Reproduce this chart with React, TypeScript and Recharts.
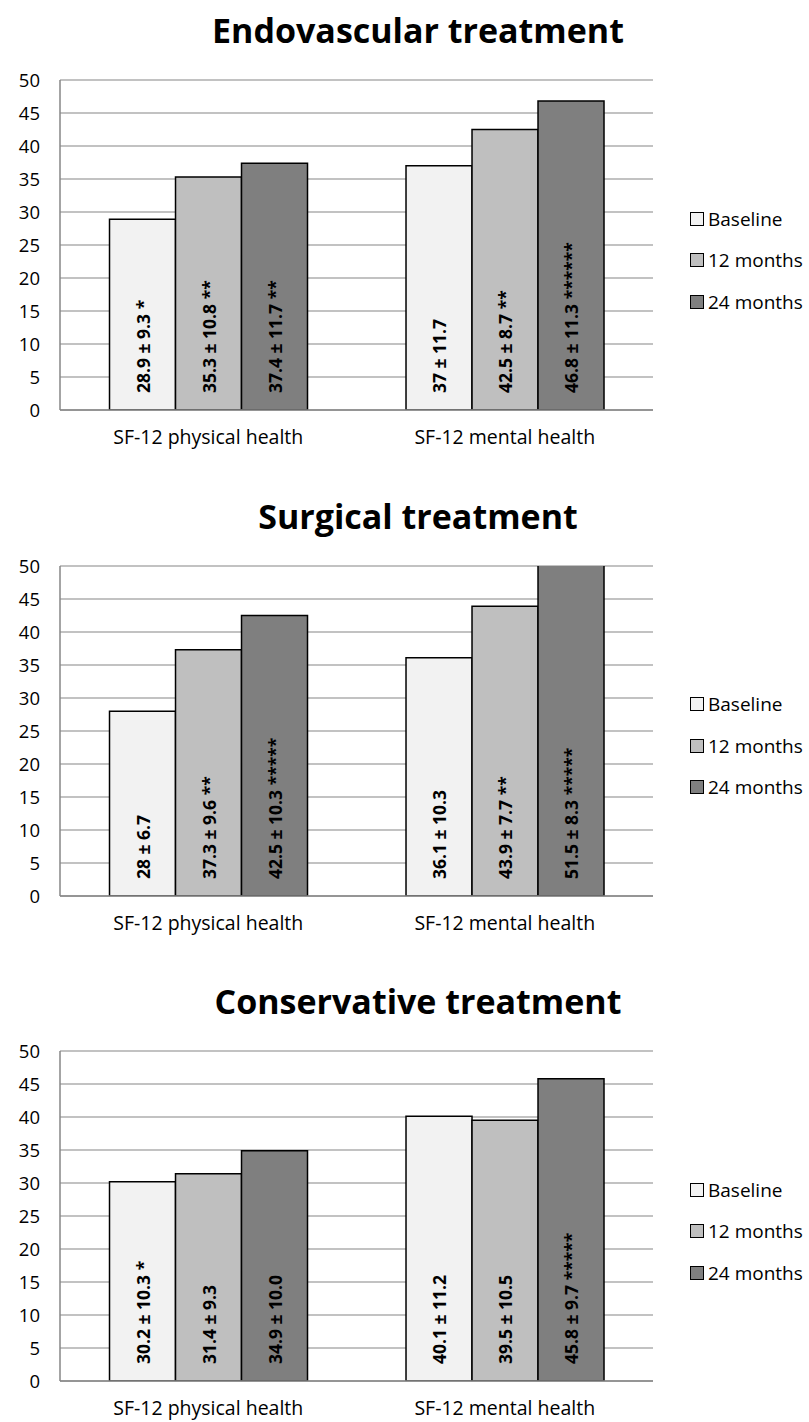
import React from 'react';
import {
    BarChart,
    Bar,
    XAxis,
    YAxis,
    CartesianGrid,
    Legend,
    LabelList
} from 'recharts';

const CATEGORIES = ['SF-12 physical health', 'SF-12 mental health'];
const SERIES = ['Baseline', '12 months', '24 months'];
const Y_TICKS = [0, 5, 10, 15, 20, 25, 30, 35, 40, 45, 50];

// Endovascular
const ENDO_BASELINE = [28.9, 37.0];
const ENDO_12M = [35.3, 42.5];
const ENDO_24M = [37.4, 46.8];
const ENDO_LABELS = [
    ['28.9 ± 9.3 *', '37 ± 11.7'],
    ['35.3 ± 10.8 **', '42.5 ± 8.7 **'],
    ['37.4 ± 11.7 **', '46.8 ± 11.3 ******']
];

// Surgical
const SURG_BASELINE = [28.0, 36.1];
const SURG_12M = [37.3, 43.9];
const SURG_24M = [42.5, 51.5];
const SURG_LABELS = [
    ['28 ± 6.7', '36.1 ± 10.3'],
    ['37.3 ± 9.6 **', '43.9 ± 7.7 **'],
    ['42.5 ± 10.3 *****', '51.5 ± 8.3 *****']
];

// Conservative
const CONS_BASELINE = [30.2, 40.1];
const CONS_12M = [31.4, 39.5];
const CONS_24M = [34.9, 45.8];
const CONS_LABELS = [
    ['30.2 ± 10.3 *', '40.1 ± 11.2'],
    ['31.4 ± 9.3', '39.5 ± 10.5'],
    ['34.9 ± 10.0', '45.8 ± 9.7 *****']
];

const COLORS = ['#f2f2f2', '#bfbfbf', '#7f7f7f'];
const KEYS = ['baseline', 'm12', 'm24'];
const FONT = '"Open Sans", sans-serif';
const GRID = '#868686';

const buildRows = (values: number[][], labels: string[][]) =>
    CATEGORIES.map((category, i) => {
        const row: Record<string, string | number> = { category };
        KEYS.forEach((k, s) => {
            row[k] = values[s][i];
            row[k + 'Label'] = labels[s][i];
        });
        return row;
    });

const BarText = (props: any) => {
    const { x, y, width, height, value } = props;
    const cx = x + width / 2;
    const by = y + height - 17;
    return (
        <text
            x={cx}
            y={by}
            transform={`rotate(-90 ${cx} ${by})`}
            textAnchor="start"
            dominantBaseline="central"
            fontFamily={FONT}
            fontWeight={700}
            fontSize={17.5}
            fill="#000"
        >
            {value}
        </text>
    );
};

// keep series order (Recharts sorts legend items by default)
const LegendBox = ({ payload }: any) => {
    const items = [...(payload || [])].sort(
        (a: any, b: any) => SERIES.indexOf(a.value) - SERIES.indexOf(b.value)
    );
    return (
        <div style={{ fontFamily: FONT, fontSize: 19, color: '#000' }}>
            {items.map((p: any) => (
                <div key={p.value} style={{ display: 'flex', alignItems: 'center', height: 41.5, whiteSpace: 'nowrap' }}>
                    <span style={{ display: 'inline-block', width: 12, height: 12, border: '1.5px solid #000', background: p.color, marginRight: 4 }} />
                    <span>{p.value}</span>
                </div>
            ))}
        </div>
    );
};

interface PanelProps {
    title: string;
    values: number[][];
    labels: string[][];
}

const Panel: React.FC<PanelProps> = ({ title, values, labels }) => {
    const data = buildRows(values, labels);
    return (
        <div style={{ position: 'relative', width: 809, height: 485.5 }}>
            <div style={{
                position: 'absolute', left: 0, width: 836, top: 10, textAlign: 'center',
                fontFamily: FONT, fontWeight: 700, fontSize: 34, lineHeight: '40px'
            }}>
                {title}
            </div>
            <BarChart
                width={809}
                height={485}
                data={data}
                margin={{ top: 80, right: 156, bottom: 30, left: 0 }}
                barCategoryGap="16.7%"
                barGap={0}
                style={{ overflow: 'visible' }}
            >
                <CartesianGrid vertical={false} stroke={GRID} strokeWidth={1.2} />
                <XAxis
                    dataKey="category"
                    height={45}
                    tickLine={false}
                    tickSize={0}
                    tickMargin={20}
                    axisLine={{ stroke: GRID, strokeWidth: 1.5 }}
                    tick={{ fill: '#000', fontSize: 19.5, fontFamily: FONT }}
                />
                <YAxis
                    width={60}
                    domain={[0, 50]}
                    ticks={Y_TICKS}
                    allowDataOverflow
                    interval={0}
                    tickLine={false}
                    tickSize={0}
                    tickMargin={20}
                    axisLine={{ stroke: GRID, strokeWidth: 1.5 }}
                    tick={{ fill: '#000', fontSize: 18.5, fontFamily: FONT }}
                />
                <Legend
                    layout="vertical"
                    align="center"
                    verticalAlign="middle"
                    content={<LegendBox />}
                    wrapperStyle={{ left: 690, top: 198, width: 150, height: 125 }}
                />
                {KEYS.map((k, s) => (
                    <Bar
                        key={k}
                        dataKey={k}
                        name={SERIES[s]}
                        fill={COLORS[s]}
                        stroke="#000"
                        strokeWidth={1.5}
                        isAnimationActive={false}
                    >
                        <LabelList dataKey={k + 'Label'} content={<BarText />} />
                    </Bar>
                ))}
            </BarChart>
        </div>
    );
};

export default function App() {
    return (
        <div style={{ position: 'absolute', left: 0, top: 0, width: 809, height: 1422, background: '#fff', overflow: 'hidden' }}>
            <Panel title="Endovascular treatment" values={[ENDO_BASELINE, ENDO_12M, ENDO_24M]} labels={ENDO_LABELS} />
            <Panel title="Surgical treatment" values={[SURG_BASELINE, SURG_12M, SURG_24M]} labels={SURG_LABELS} />
            <Panel title="Conservative treatment" values={[CONS_BASELINE, CONS_12M, CONS_24M]} labels={CONS_LABELS} />
        </div>
    );
}
